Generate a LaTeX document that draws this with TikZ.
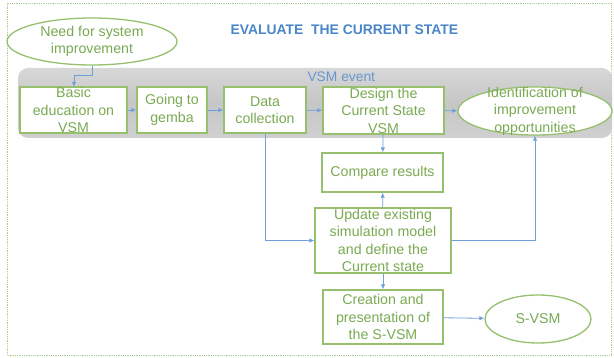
\documentclass[tikz,border=0pt]{standalone}
\usepackage{fontspec}
\setmainfont{Liberation Sans}
\usetikzlibrary{shapes.geometric,arrows.meta}
\definecolor{boxgreen}{RGB}{150,192,110}
\definecolor{txtgreen}{RGB}{122,170,82}
\definecolor{linkblue}{RGB}{110,160,220}
\definecolor{titleblue}{RGB}{74,134,200}
\definecolor{bandgray}{RGB}{198,198,198}
\tikzset{
  stepbox/.style={draw=boxgreen, line width=1.3pt, fill=white, inner sep=0pt},
  goal/.style={stepbox, ellipse},
  steptext/.style={text=txtgreen, align=center, inner sep=0pt,
    font=\fontsize{14.2}{17.5}\selectfont},
  link/.style={draw=linkblue, line width=0.8pt, -{Latex[length=5pt,width=4.5pt]}},
}
\begin{document}
\begin{tikzpicture}[x=1pt,y=-1pt]
\useasboundingbox (0,0) rectangle (614,358);
% outer dotted frame
\draw[boxgreen!80, densely dotted, line width=0.8pt] (7,3) rectangle (611,355);
% title
\node[text=titleblue, font=\bfseries\fontsize{13.9}{16}\selectfont, anchor=west] (title) at (227,30) {EVALUATE\ \ THE CURRENT STATE};
% VSM event band
\shade[top color=bandgray!70, bottom color=bandgray!105!black, middle color=bandgray, rounded corners=10pt] (18,68) rectangle (612,138);
\node[text=titleblue!85, font=\fontsize{13.8}{16}\selectfont, anchor=west] (event) at (304,77) {VSM event};
% start
\node[goal, minimum width=170pt, minimum height=47pt] (need) at (92,41.5) {};
\node[steptext] (need-t) at (need) {Need for system\\improvement};
% steps inside the band
\node[stepbox, minimum width=107pt, minimum height=46pt] (basic) at (73.5,110) {};
\node[steptext] (basic-t) at (basic) {Basic\\education on\\VSM};
\node[stepbox, minimum width=70pt, minimum height=46pt] (gemba) at (172,110) {};
\node[steptext] (gemba-t) at (gemba) {Going to\\gemba};
\node[stepbox, minimum width=82pt, minimum height=46pt] (data) at (265,110) {};
\node[steptext] (data-t) at (data) {Data\\collection};
\node[stepbox, minimum width=121pt, minimum height=47pt] (design) at (383.5,110.5) {};
\node[steptext] (design-t) at (design) {Design the\\Current State\\VSM};
\node[goal, minimum width=154pt, minimum height=48pt] (ident) at (535,111) {};
\node[steptext] (ident-t) at (ident) {Identification of\\improvement\\opportunities};
% steps below the band
\node[stepbox, minimum width=121pt, minimum height=39pt] (compare) at (382.5,172.5) {};
\node[steptext] (compare-t) at (compare) {Compare results};
\node[stepbox, minimum width=136pt, minimum height=65pt] (update) at (383,240.5) {};
\node[steptext] (update-t) at (update) {Update existing\\simulation model\\and define the\\Current state};
\node[stepbox, minimum width=120pt, minimum height=54pt] (create) at (383,317) {};
\node[steptext] (create-t) at (create) {Creation and\\presentation of\\the S-VSM};
\node[goal, minimum width=106pt, minimum height=48pt] (svsm) at (538,319) {};
\node[steptext] (svsm-t) at (svsm) {S-VSM};
% connectors
\draw[link] (need.south) -- (92,75) -| (74,87);
\draw[link] (basic) -- (gemba);
\draw[link] (gemba) -- (data);
\draw[link] (data) -- (design);
\draw[link] (design) -- (ident);
\draw[link] (design) -- (compare);
\draw[link] (update) -- (compare);
\draw[link] (update) -- (create);
\draw[link] (create) -- (svsm);
\draw[link] (data.south) |- (update.west);
\draw[link] (update.east) -| (ident.south);
\end{tikzpicture}
\end{document}
